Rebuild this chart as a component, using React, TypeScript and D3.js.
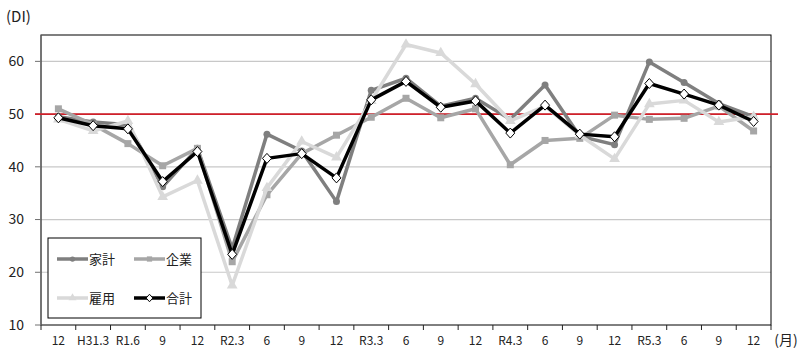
import React from 'react';
import * as d3 from 'd3';

const width = 800;
const height = 363;
const margin = { top: 35, right: 29, bottom: 38, left: 41 };

const categories = ['12', 'H31.3', 'R1.6', '9', '12', 'R2.3', '6', '9', '12', 'R3.3', '6', '9', '12', 'R4.3', '6', '9', '12', 'R5.3', '6', '9', '12'];

const kakei = [49.5, 48.5, 48, 36.2, 43.5, 24.5, 46.2, 43, 33.4, 54.5, 56.8, 51.5, 53, 49, 55.5, 45.8, 44.2, 59.9, 56, 52, 49.5];
const kigyo = [51, 48, 44.4, 40.2, 43.5, 22, 34.7, 42.5, 46, 49.4, 53, 49.3, 51, 40.4, 45, 45.4, 49.8, 49, 49.2, 51.5, 46.8];
const koyo = [49, 46.8, 48.7, 34.3, 37.4, 17.5, 36, 44.8, 41.8, 52.5, 63.2, 61.6, 55.7, 48.7, 51.5, 46, 41.5, 51.9, 52.6, 48.5, 49.5];
const gokei = [49.3, 47.8, 47.2, 37.2, 42.9, 23.4, 41.6, 42.5, 37.9, 52.7, 56.2, 51.3, 52.5, 46.4, 51.7, 46.2, 45.7, 55.8, 53.8, 51.7, 48.6];

const yTicks = [10, 20, 30, 40, 50, 60];

const series = [
  { name: '家計', values: kakei, color: '#7f7f7f', marker: 'circle' },
  { name: '企業', values: kigyo, color: '#a6a6a6', marker: 'square' },
  { name: '雇用', values: koyo, color: '#d9d9d9', marker: 'triangle' },
  { name: '合計', values: gokei, color: '#000000', marker: 'diamond' },
];

const font = '"Noto Sans CJK JP", "Noto Sans", sans-serif';

const x = d3
  .scaleBand()
  .domain(categories.map((d, i) => String(i)))
  .range([margin.left, width - margin.right]);

const y = d3
  .scaleLinear()
  .domain([10, 65])
  .range([height - margin.bottom, margin.top]);

const cx = (i) => x(String(i)) + x.bandwidth() / 2;

function Marker({ type, px, py, color, k = 1 }) {
  if (type === 'circle') {
    return <circle cx={px} cy={py} r={3.5 * k} fill={color} />;
  }
  if (type === 'square') {
    const h = 3.5 * k;
    return <rect x={px - h} y={py - h} width={2 * h} height={2 * h} fill={color} />;
  }
  if (type === 'triangle') {
    const s = d3.symbol(d3.symbolTriangle, 50 * k * k)();
    return <path d={s} transform={`translate(${px},${py})`} fill={color} />;
  }
  const a = 5 * k;
  const b = 4.5 * k;
  return (
    <path
      d={`M${px},${py - a}L${px + b},${py}L${px},${py + a}L${px - b},${py}Z`}
      fill="#fff"
      stroke="#000"
      strokeWidth={1}
    />
  );
}

function App() {
  const line = d3
    .line()
    .x((d, i) => cx(i))
    .y((d) => y(d));

  const plotBottom = height - margin.bottom;
  const plotRight = width - margin.right;
  const boundaries = categories.map((d, i) => x(String(i))).concat([plotRight]);

  const legendItems = [
    { s: series[0], lx: 57, ly: 259 },
    { s: series[1], lx: 134, ly: 259 },
    { s: series[2], lx: 57, ly: 298 },
    { s: series[3], lx: 134, ly: 298 },
  ];

  return (
    <svg
      width={width}
      height={height}
      style={{ position: 'absolute', left: 0, top: 0, background: '#fff' }}
      fontFamily={font}
    >
      {/* grid */}
      {yTicks.slice(1).map((t) => (
        <line key={t} x1={margin.left} x2={plotRight} y1={y(t)} y2={y(t)} stroke="#c8c8c8" strokeWidth={1.2} />
      ))}
      {/* frame */}
      <rect
        x={margin.left}
        y={margin.top}
        width={plotRight - margin.left}
        height={plotBottom - margin.top}
        fill="none"
        stroke="#000"
        strokeWidth={1}
      />
      <line x1={margin.left} x2={margin.left} y1={margin.top} y2={plotBottom} stroke="#707070" strokeWidth={1.2} />
      {/* y ticks and labels */}
      {yTicks.map((t) => (
        <g key={t}>
          <line x1={35} x2={margin.left} y1={y(t)} y2={y(t)} stroke="#707070" strokeWidth={1} />
          <text x={24} y={y(t)} dy="0.35em" textAnchor="end" fontSize={14} fill="#222">
            {t}
          </text>
        </g>
      ))}
      {/* x ticks */}
      {boundaries.map((b, i) => (
        <line key={i} x1={b} x2={b} y1={plotBottom} y2={plotBottom + 5} stroke="#222" strokeWidth={1} />
      ))}
      {categories.map((c, i) => (
        <text key={i} x={cx(i)} y={341} textAnchor="middle" dy="0.35em" fontSize={12} fill="#222">
          {c}
        </text>
      ))}
      <text x={786} y={340} textAnchor="middle" dy="0.35em" fontSize={14} fill="#222">
        (月)
      </text>
      <text x={6} y={17} dy="0.35em" fontSize={15} fill="#222">
        (DI)
      </text>
      {/* red line at 50 */}
      <line x1={35} x2={778} y1={y(50)} y2={y(50)} stroke="#d0202a" strokeWidth={1.6} />
      {/* series */}
      {series.map((s) => (
        <g key={s.name}>
          <path d={line(s.values)} fill="none" stroke={s.color} strokeWidth={3.5} strokeLinejoin="round" />
          {s.values.map((v, i) => (
            <Marker key={i} type={s.marker} px={cx(i)} py={y(v)} color={s.color} />
          ))}
        </g>
      ))}
      {/* legend */}
      <rect x={48} y={238} width={153} height={80} fill="#fff" stroke="#000" strokeWidth={1} />
      {legendItems.map(({ s, lx, ly }) => (
        <g key={s.name}>
          <line x1={lx} x2={lx + 31} y1={ly} y2={ly} stroke={s.color} strokeWidth={3.5} />
          <Marker type={s.marker} px={lx + 15.5} py={ly} color={s.color} k={0.75} />
          <text x={lx + 32} y={ly} dy="0.35em" fontSize={13} fill="#222">
            {s.name}
          </text>
        </g>
      ))}
    </svg>
  );
}

export default App;
